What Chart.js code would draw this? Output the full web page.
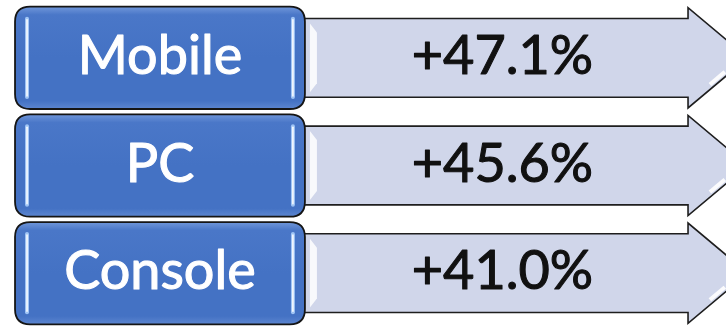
<!DOCTYPE html>
<html>
<head>
<meta charset="utf-8">
<script src="https://cdn.jsdelivr.net/npm/chart.js@4"></script>
<style>
  html, body { margin: 0; padding: 0; background: #ffffff; }
  #c { display: block; }
</style>
</head>
<body>
<canvas id="c" width="726" height="327"></canvas>
<script>
// ---- data ----
const categories = ['Mobile', 'PC', 'Console'];
const growthValues = [47.1, 45.6, 41.0];
const valueLabels = growthValues.map(v => '+' + v.toFixed(1) + '%');

const FONT = 'Lato, "Open Sans", sans-serif';

function roundRect(ctx, x, y, w, h, r) {
  ctx.beginPath();
  ctx.moveTo(x + r, y);
  ctx.lineTo(x + w - r, y);
  ctx.quadraticCurveTo(x + w, y, x + w, y + r);
  ctx.lineTo(x + w, y + h - r);
  ctx.quadraticCurveTo(x + w, y + h, x + w - r, y + h);
  ctx.lineTo(x + r, y + h);
  ctx.quadraticCurveTo(x, y + h, x, y + h - r);
  ctx.lineTo(x, y + r);
  ctx.quadraticCurveTo(x, y, x + r, y);
  ctx.closePath();
}

function heavyText(ctx, text, x, y, color) {
  ctx.fillStyle = color;
  ctx.strokeStyle = color;
  ctx.lineWidth = 1.1;
  ctx.lineJoin = 'round';
  ctx.fillText(text, x, y);
  ctx.strokeText(text, x, y);
}

const infographic = {
  id: 'infographic',
  afterDatasetsDraw(chart) {
    const ctx = chart.ctx;
    const ca = chart.chartArea;
    const W = ca.right - ca.left;
    const meta = chart.getDatasetMeta(0);
    meta.data.forEach((el, i) => {
      const cy = el.y;
      const h = el.height;
      const top = cy - h / 2;
      const bottom = cy + h / 2;
      const boxL = ca.left + W * 0.0207;
      const boxR = ca.left + W * 0.420;
      const headX = ca.left + W * 0.9477;
      const tipX = ca.left + W * 1.03;
      const bh = h * 0.385;
      const bt = cy - bh, bb = cy + bh;

      // ---- arrow ----
      ctx.save();
      ctx.beginPath();
      ctx.moveTo(boxR - 10, bt);
      ctx.lineTo(headX, bt);
      ctx.lineTo(headX, top + 1);
      ctx.lineTo(tipX, cy);
      ctx.lineTo(headX, bottom - 1);
      ctx.lineTo(headX, bb);
      ctx.lineTo(boxR - 10, bb);
      ctx.closePath();
      ctx.fillStyle = '#D0D6EA';
      ctx.fill();
      ctx.lineWidth = 1.6;
      ctx.strokeStyle = '#1e1e1e';
      ctx.lineJoin = 'miter';
      ctx.stroke();
      // bevel highlight left
      ctx.beginPath();
      ctx.moveTo(boxR + 5, bt + 5);
      ctx.lineTo(boxR + 12, bt + 14);
      ctx.lineTo(boxR + 12, bb - 14);
      ctx.lineTo(boxR + 5, bb - 5);
      ctx.closePath();
      ctx.fillStyle = 'rgba(255,255,255,0.85)';
      ctx.fill();
      // head highlight on lower diagonal
      ctx.beginPath();
      const dx = tipX - headX, dy = (bottom - 1) - cy;
      const p1 = 0.30, p2 = 0.55;
      ctx.moveTo(tipX - dx * p1 - 5, cy + dy * p1 - 1);
      ctx.lineTo(tipX - dx * p2 - 5, cy + dy * p2 - 1);
      ctx.lineWidth = 4;
      ctx.strokeStyle = 'rgba(255,255,255,0.9)';
      ctx.stroke();
      ctx.restore();

      // value text
      ctx.save();
      ctx.font = '54px ' + FONT;
      ctx.textAlign = 'center';
      ctx.textBaseline = 'alphabetic';
      heavyText(ctx, valueLabels[i], ca.left + W * 0.692, cy + 16, '#111111');
      ctx.restore();

      // ---- blue label box ----
      ctx.save();
      roundRect(ctx, boxL, top, boxR - boxL, h, 15);
      const g = ctx.createLinearGradient(0, top, 0, bottom);
      g.addColorStop(0, '#7097DA');
      g.addColorStop(0.08, '#4A77C8');
      g.addColorStop(0.5, '#4472C4');
      g.addColorStop(0.92, '#4472C4');
      g.addColorStop(1, '#5C86D0');
      ctx.fillStyle = g;
      ctx.fill();
      ctx.lineWidth = 1.8;
      ctx.strokeStyle = '#151515';
      ctx.stroke();
      // inner highlight lines
      [boxL + 12, boxR - 12].forEach(x => {
        ctx.beginPath();
        ctx.moveTo(x, top + 12);
        ctx.lineTo(x, bottom - 12);
        ctx.lineWidth = 4;
        ctx.strokeStyle = 'rgba(170,205,250,0.9)';
        ctx.lineCap = 'round';
        ctx.stroke();
        ctx.beginPath();
        ctx.moveTo(x, top + 13);
        ctx.lineTo(x, bottom - 13);
        ctx.lineWidth = 1.5;
        ctx.strokeStyle = '#ffffff';
        ctx.stroke();
      });
      ctx.font = '54px ' + FONT;
      ctx.textAlign = 'center';
      ctx.textBaseline = 'alphabetic';
      heavyText(ctx, categories[i], (boxL + boxR) / 2, cy + 16, '#ffffff');
      ctx.restore();
    });
  }
};

new Chart(document.getElementById('c'), {
  type: 'bar',
  data: {
    labels: categories,
    datasets: [{
      label: 'Growth',
      data: growthValues,
      backgroundColor: 'rgba(0,0,0,0)',
      borderWidth: 0,
      barPercentage: 0.95,
      categoryPercentage: 1.0
    }]
  },
  options: {
    indexAxis: 'y',
    responsive: false,
    animation: false,
    devicePixelRatio: 1,
    layout: { padding: { top: 4, bottom: 0, left: 0, right: 0 } },
    scales: {
      x: { display: false, min: 0, max: 100 },
      y: { display: false, offset: true }
    },
    plugins: {
      legend: { display: false },
      tooltip: { enabled: false }
    }
  },
  plugins: [infographic]
});
</script>
</body>
</html>
